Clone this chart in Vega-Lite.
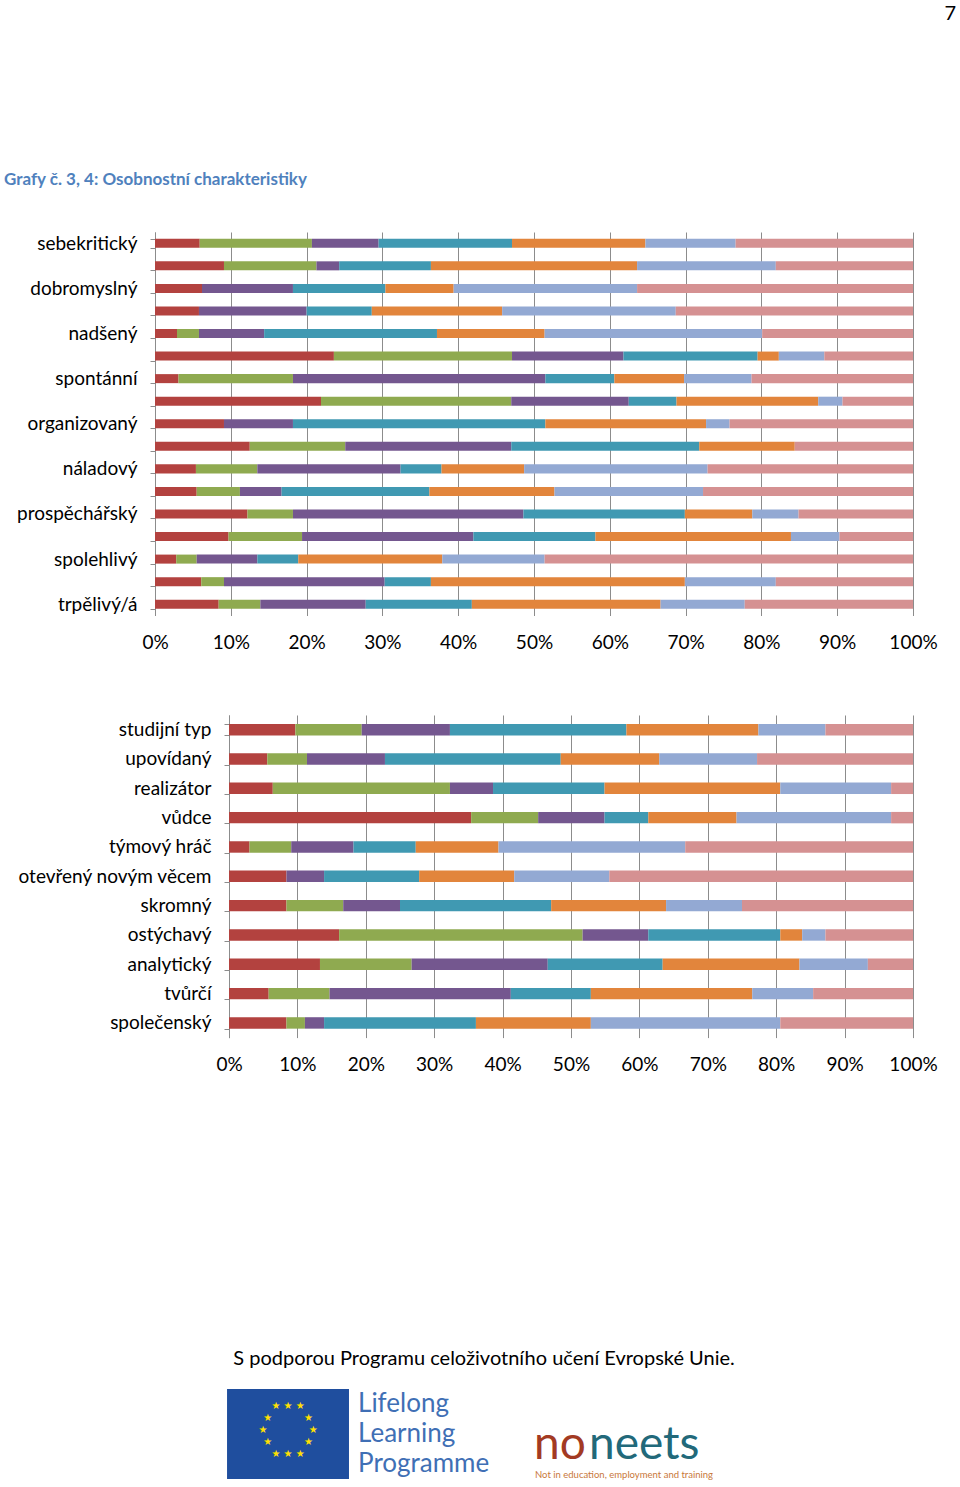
{
  "$schema": "https://vega.github.io/schema/vega-lite/v6.json",
  "background": "white",
  "padding": {"left": 4, "top": 3, "right": 0, "bottom": 0},
  "config": {
    "font": "Lato",
    "view": {"stroke": null},
    "axis": {"labelFont": "Lato", "labelColor": "#000000"},
    "title": {"font": "Lato"}
  },
  "datasets": {
    "top": [
      {"k": "sebekritický", "s1": 5.9, "s2": 14.8, "s3": 8.8, "s4": 17.6, "s5": 17.6, "s6": 11.9, "s7": 23.4},
      {"k": "(2)", "s1": 9.1, "s2": 12.2, "s3": 3.0, "s4": 12.1, "s5": 27.2, "s6": 18.3, "s7": 18.1},
      {"k": "dobromyslný", "s1": 6.2, "s2": 0, "s3": 12.0, "s4": 12.2, "s5": 9.0, "s6": 24.2, "s7": 36.4},
      {"k": "(4)", "s1": 5.8, "s2": 0, "s3": 14.2, "s4": 8.6, "s5": 17.2, "s6": 22.9, "s7": 31.3},
      {"k": "nadšený", "s1": 2.9, "s2": 2.9, "s3": 8.6, "s4": 22.8, "s5": 14.2, "s6": 28.7, "s7": 19.9},
      {"k": "(6)", "s1": 23.6, "s2": 23.5, "s3": 14.7, "s4": 17.7, "s5": 2.8, "s6": 6.0, "s7": 11.7},
      {"k": "spontánní", "s1": 3.1, "s2": 15.1, "s3": 33.3, "s4": 9.1, "s5": 9.2, "s6": 8.9, "s7": 21.3},
      {"k": "(8)", "s1": 21.9, "s2": 25.1, "s3": 15.5, "s4": 6.3, "s5": 18.7, "s6": 3.2, "s7": 9.3},
      {"k": "organizovaný", "s1": 9.1, "s2": 0, "s3": 9.1, "s4": 33.3, "s5": 21.2, "s6": 3.1, "s7": 24.2},
      {"k": "(10)", "s1": 12.5, "s2": 12.6, "s3": 21.9, "s4": 24.8, "s5": 12.6, "s6": 0, "s7": 15.6},
      {"k": "náladový", "s1": 5.4, "s2": 8.1, "s3": 18.9, "s4": 5.4, "s5": 10.9, "s6": 24.2, "s7": 27.1},
      {"k": "(12)", "s1": 5.5, "s2": 5.7, "s3": 5.5, "s4": 19.5, "s5": 16.5, "s6": 19.6, "s7": 27.7},
      {"k": "prospěchářský", "s1": 12.2, "s2": 6.0, "s3": 30.4, "s4": 21.3, "s5": 8.9, "s6": 6.1, "s7": 15.1},
      {"k": "(14)", "s1": 9.7, "s2": 9.7, "s3": 22.6, "s4": 16.1, "s5": 25.8, "s6": 6.4, "s7": 9.7},
      {"k": "spolehlivý", "s1": 2.8, "s2": 2.7, "s3": 8.0, "s4": 5.4, "s5": 19.0, "s6": 13.5, "s7": 48.6},
      {"k": "(16)", "s1": 6.1, "s2": 3.0, "s3": 21.2, "s4": 6.1, "s5": 33.5, "s6": 12.0, "s7": 18.1},
      {"k": "trpělivý/á", "s1": 8.4, "s2": 5.5, "s3": 13.9, "s4": 14.0, "s5": 24.9, "s6": 11.1, "s7": 22.2}
    ],
    "bottom": [
      {"k": "studijní typ", "s1": 9.7, "s2": 9.7, "s3": 12.9, "s4": 25.8, "s5": 19.3, "s6": 9.8, "s7": 12.8},
      {"k": "upovídaný", "s1": 5.6, "s2": 5.8, "s3": 11.4, "s4": 25.7, "s5": 14.4, "s6": 14.3, "s7": 22.8},
      {"k": "realizátor", "s1": 6.4, "s2": 25.9, "s3": 6.3, "s4": 16.3, "s5": 25.7, "s6": 16.2, "s7": 3.2},
      {"k": "vůdce", "s1": 35.4, "s2": 9.8, "s3": 9.7, "s4": 6.4, "s5": 12.9, "s6": 22.6, "s7": 3.2},
      {"k": "týmový hráč", "s1": 3.0, "s2": 6.1, "s3": 9.1, "s4": 9.1, "s5": 12.1, "s6": 27.3, "s7": 33.3},
      {"k": "otevřený novým věcem", "s1": 8.4, "s2": 0, "s3": 5.5, "s4": 13.9, "s5": 13.9, "s6": 13.9, "s7": 44.4},
      {"k": "skromný", "s1": 8.4, "s2": 8.3, "s3": 8.3, "s4": 22.1, "s5": 16.8, "s6": 11.1, "s7": 25.0},
      {"k": "ostýchavý", "s1": 16.1, "s2": 35.6, "s3": 9.6, "s4": 19.3, "s5": 3.2, "s6": 3.4, "s7": 12.8},
      {"k": "analytický", "s1": 13.3, "s2": 13.4, "s3": 19.9, "s4": 16.8, "s5": 20.0, "s6": 10.0, "s7": 6.6},
      {"k": "tvůrčí", "s1": 5.8, "s2": 8.9, "s3": 26.5, "s4": 11.7, "s5": 23.6, "s6": 8.9, "s7": 14.6},
      {"k": "společenský", "s1": 8.4, "s2": 2.7, "s3": 2.8, "s4": 22.2, "s5": 16.8, "s6": 27.7, "s7": 19.4}
    ],
    "footer": [
      {"logo": "flag", "kind": "flag"},
      {"logo": "flag", "kind": "stars", "text": ["★\u00a0★\u00a0★", "★\u00a0\u00a0\u00a0\u00a0\u00a0\u00a0\u00a0\u00a0\u00a0\u00a0★", "★\u00a0\u00a0\u00a0\u00a0\u00a0\u00a0\u00a0\u00a0\u00a0\u00a0\u00a0\u00a0\u00a0★", "★\u00a0\u00a0\u00a0\u00a0\u00a0\u00a0\u00a0\u00a0\u00a0\u00a0★", "★\u00a0★\u00a0★"]},
      {"logo": "llp", "kind": "llp", "line": "1", "text": "Lifelong"},
      {"logo": "llp", "kind": "llp", "line": "2", "text": "Learning"},
      {"logo": "llp", "kind": "llp", "line": "3", "text": "Programme"},
      {"logo": "noneets", "kind": "no", "text": "no"},
      {"logo": "noneets", "kind": "neets", "text": "neets"},
      {"logo": "noneets", "kind": "tag", "text": "Not in education, employment and training"}
    ]
  },
  "title": {"text": "7", "anchor": "end", "frame": "bounds", "fontSize": 20, "fontWeight": "normal", "color": "#000000", "offset": 147, "dx": 19},
  "columns": 1,
  "align": "none",
  "spacing": 274,
  "concat": [
    {
      "title": {"text": "Grafy č. 3, 4: Osobnostní charakteristiky", "anchor": "start", "frame": "bounds", "fontSize": 17, "fontWeight": "bold", "color": "#4F81BD", "offset": 34.5},
      "columns": 1,
      "align": "none",
      "spacing": 54,
      "concat": [
        {
          "data": {"name": "top"},
          "width": 758,
          "height": 383.5,
          "transform": [{"fold": ["s1", "s2", "s3", "s4", "s5", "s6", "s7"], "as": ["s", "v"]}],
          "mark": {"type": "bar"},
          "encoding": {
            "y": {
              "field": "k", "type": "nominal", "sort": null,
              "scale": {"paddingInner": 0.6, "paddingOuter": 0.3},
              "axis": {"title": null, "labelFontSize": 19, "labelLimit": 300, "tickBand": "extent", "tickSize": 5, "tickColor": "#8C8C8C", "domainColor": "#8C8C8C", "labelPadding": 13, "minExtent": 151, "maxExtent": 151, "labelExpr": "indexof(datum.label, '(') == 0 ? '' : datum.label"}
            },
            "x": {
              "field": "v", "type": "quantitative", "stack": "zero",
              "scale": {"domain": [0, 100], "nice": false},
              "axis": {"title": null, "values": [0, 10, 20, 30, 40, 50, 60, 70, 80, 90, 100], "labelExpr": "datum.value + '%'", "grid": true, "gridColor": "#8C8C8C", "ticks": false, "domain": false, "labelPadding": 17.5, "labelFontSize": 19, "labelFlush": false, "labelOverlap": false}
            },
            "color": {
              "field": "s", "type": "nominal",
              "scale": {"domain": ["s1", "s2", "s3", "s4", "s5", "s6", "s7"], "range": ["#B3423F", "#8FAA50", "#74578F", "#4099B2", "#E2853C", "#93A9D3", "#D59192"]},
              "legend": null
            },
            "order": {"field": "s", "type": "ordinal"}
          }
        },
        {
          "data": {"name": "bottom"},
          "width": 758,
          "height": 322.6,
          "transform": [{"fold": ["s1", "s2", "s3", "s4", "s5", "s6", "s7"], "as": ["s", "v"]}],
          "mark": {"type": "bar"},
          "encoding": {
            "y": {
              "field": "k", "type": "nominal", "sort": null,
              "scale": {"paddingInner": 0.61, "paddingOuter": 0.305},
              "axis": {"title": null, "offset": -74, "labelFontSize": 19, "labelLimit": 300, "tickBand": "extent", "tickSize": 5, "tickColor": "#8C8C8C", "domainColor": "#8C8C8C", "labelPadding": 13}
            },
            "x": {
              "field": "v", "type": "quantitative", "stack": "zero",
              "scale": {"domain": [-10.819, 100], "nice": false, "zero": false},
              "axis": {"title": null, "values": [0, 10, 20, 30, 40, 50, 60, 70, 80, 90, 100], "labelExpr": "datum.value + '%'", "grid": true, "gridColor": "#8C8C8C", "ticks": false, "domain": false, "labelPadding": 17.5, "labelFontSize": 19, "labelFlush": false, "labelOverlap": false}
            },
            "color": {
              "field": "s", "type": "nominal",
              "scale": {"domain": ["s1", "s2", "s3", "s4", "s5", "s6", "s7"], "range": ["#B3423F", "#8FAA50", "#74578F", "#4099B2", "#E2853C", "#93A9D3", "#D59192"]},
              "legend": null
            },
            "order": {"field": "s", "type": "ordinal"}
          }
        }
      ]
    },
    {
      "data": {"name": "footer"},
      "width": 528,
      "height": 90,
      "title": {"text": "S podporou Programu celoživotního učení Evropské Unie.", "anchor": "middle", "fontSize": 20, "fontWeight": "normal", "color": "#000000", "offset": 20, "dx": 65},
      "encoding": {
        "x": {"field": "logo", "type": "nominal", "scale": {"domain": ["flag", "llp", "noneets"], "paddingInner": 0.069, "paddingOuter": 0.55}, "axis": null}
      },
      "layer": [
        {
          "transform": [{"filter": "datum.kind == 'flag'"}],
          "mark": {"type": "bar", "color": "#1F4E9E"}
        },
        {
          "transform": [{"filter": "datum.kind == 'stars'"}],
          "mark": {"type": "text", "font": "DejaVu Sans", "fontSize": 10, "lineHeight": 12, "color": "#FFE000", "dy": -28},
          "encoding": {"text": {"field": "text"}}
        },
        {
          "transform": [{"filter": "datum.kind == 'llp'"}],
          "mark": {"type": "text", "align": "left", "fontSize": 26, "color": "#3F6FB5"},
          "encoding": {
            "x": {"field": "logo", "type": "nominal", "bandPosition": 0},
            "y": {"field": "line", "type": "ordinal", "axis": null},
            "text": {"field": "text"}
          }
        },
        {
          "transform": [{"filter": "datum.kind == 'no'"}],
          "mark": {"type": "text", "align": "left", "fontSize": 46, "color": "#A33A23", "dx": 45, "dy": 11},
          "encoding": {"x": {"field": "logo", "type": "nominal", "bandPosition": 0}, "text": {"field": "text"}}
        },
        {
          "transform": [{"filter": "datum.kind == 'neets'"}],
          "mark": {"type": "text", "align": "left", "fontSize": 46, "color": "#22697A", "dx": 100, "dy": 11},
          "encoding": {"x": {"field": "logo", "type": "nominal", "bandPosition": 0}, "text": {"field": "text"}}
        },
        {
          "transform": [{"filter": "datum.kind == 'tag'"}],
          "mark": {"type": "text", "align": "left", "fontSize": 9.5, "color": "#C8783A", "dx": 46, "dy": 41},
          "encoding": {"x": {"field": "logo", "type": "nominal", "bandPosition": 0}, "text": {"field": "text"}}
        }
      ]
    }
  ]
}
